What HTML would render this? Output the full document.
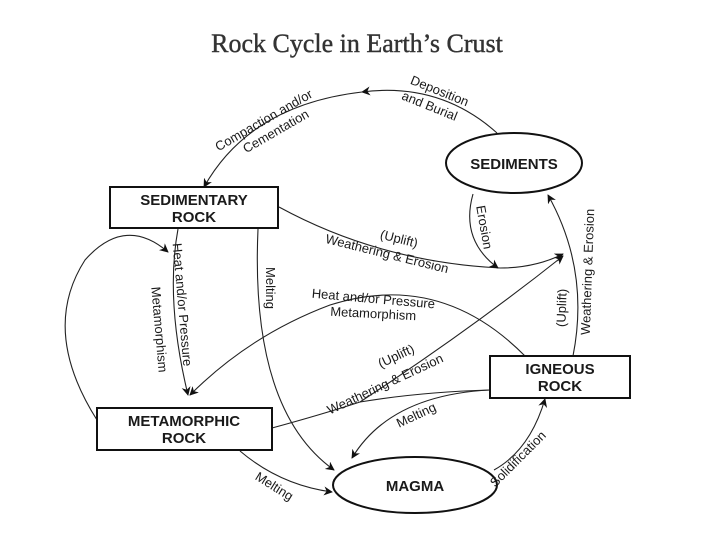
<!DOCTYPE html>
<html><head><meta charset="utf-8"><style>
html,body{margin:0;padding:0;background:#fff;}
svg{display:block;}
text{font-family:"Liberation Sans",sans-serif;fill:#1a1a1a;}
.n{font-weight:bold;font-size:15px;}
.l{font-size:13px;}
</style></head><body>
<svg width="720" height="540" viewBox="0 0 720 540" xmlns="http://www.w3.org/2000/svg">
<defs><marker id="a" viewBox="0 0 10 10" refX="9" refY="5" markerWidth="9" markerHeight="9" orient="auto-start-reverse" markerUnits="userSpaceOnUse"><path d="M0,0 L10,5 L0,10 L3,5 z" fill="#111"/></marker></defs>
<text x="357" y="52" text-anchor="middle" style="font-family:'Liberation Serif',serif;font-size:26px;fill:#333;stroke:#333;stroke-width:0.4">Rock Cycle in Earth’s Crust</text>
<g fill="none" stroke="#222" stroke-width="1.1">
<path d="M497,133 Q440,82 362,92" marker-end="url(#a)"/>
<path d="M362,92 Q250,105 204,187" marker-end="url(#a)"/>
<path d="M279,207 Q380,262 500,268 Q535,268 563,254" marker-end="url(#a)"/>
<path d="M473,194 Q460,240 498,268" marker-end="url(#a)"/>
<path d="M573,356 Q590,270 548,195" marker-end="url(#a)"/>
<path d="M272,428 Q320,415 360,402 Q470,330 563,256" marker-end="url(#a)"/>
<path d="M490,390 Q420,392 360,402"/>
<path d="M525,356 Q440,270 330,305 Q250,335 190,395" marker-end="url(#a)"/>
<path d="M178,229 Q165,300 188,395" marker-end="url(#a)"/>
<path d="M97,420 Q40,330 85,260 Q125,215 168,252" marker-end="url(#a)"/>
<path d="M258,229 Q250,410 334,470" marker-end="url(#a)"/>
<path d="M240,451 Q280,485 332,492" marker-end="url(#a)"/>
<path d="M490,390 Q390,395 352,458" marker-end="url(#a)"/>
<path d="M494,470 Q530,450 545,399" marker-end="url(#a)"/>
</g>
<g fill="#fff" stroke="#111" stroke-width="2">
<ellipse cx="514" cy="163" rx="68" ry="30"/>
<rect x="110" y="187" width="168" height="41"/>
<rect x="97" y="408" width="175" height="42"/>
<rect x="490" y="356" width="140" height="42"/>
<ellipse cx="415" cy="485" rx="82" ry="28"/>
</g>
<g class="n" text-anchor="middle">
<text x="514" y="169">SEDIMENTS</text>
<text x="194" y="205">SEDIMENTARY</text><text x="194" y="222">ROCK</text>
<text x="184" y="426">METAMORPHIC</text><text x="184" y="443">ROCK</text>
<text x="560" y="374">IGNEOUS</text><text x="560" y="391">ROCK</text>
<text x="415" y="491">MAGMA</text>
</g>
<g class="l" text-anchor="middle">
<text transform="translate(266,124) rotate(-30)">Compaction and/or</text>
<text transform="translate(278,135) rotate(-30)">Cementation</text>
<text transform="translate(438,95) rotate(22)">Deposition</text>
<text transform="translate(428,110) rotate(22)">and Burial</text>
<text transform="translate(398,243) rotate(14)">(Uplift)</text>
<text transform="translate(386,258) rotate(14)">Weathering &amp; Erosion</text>
<text transform="translate(480,228) rotate(80)">Erosion</text>
<text transform="translate(592,272) rotate(-88)">Weathering &amp; Erosion</text>
<text transform="translate(566,308) rotate(-88)">(Uplift)</text>
<text transform="translate(266,288) rotate(90)">Melting</text>
<text transform="translate(178,305) rotate(85)">Heat and/or Pressure</text>
<text transform="translate(155,330) rotate(85)">Metamorphism</text>
<text transform="translate(373,303) rotate(5)">Heat and/or Pressure</text>
<text transform="translate(373,318) rotate(3)">Metamorphism</text>
<text transform="translate(398,360) rotate(-25)">(Uplift)</text>
<text transform="translate(387,388) rotate(-25)">Weathering &amp; Erosion</text>
<text transform="translate(418,419) rotate(-25)">Melting</text>
<text transform="translate(272,490) rotate(32)">Melting</text>
<text transform="translate(521,462) rotate(-45)">Solidification</text>
</g>
</svg>
</body></html>
